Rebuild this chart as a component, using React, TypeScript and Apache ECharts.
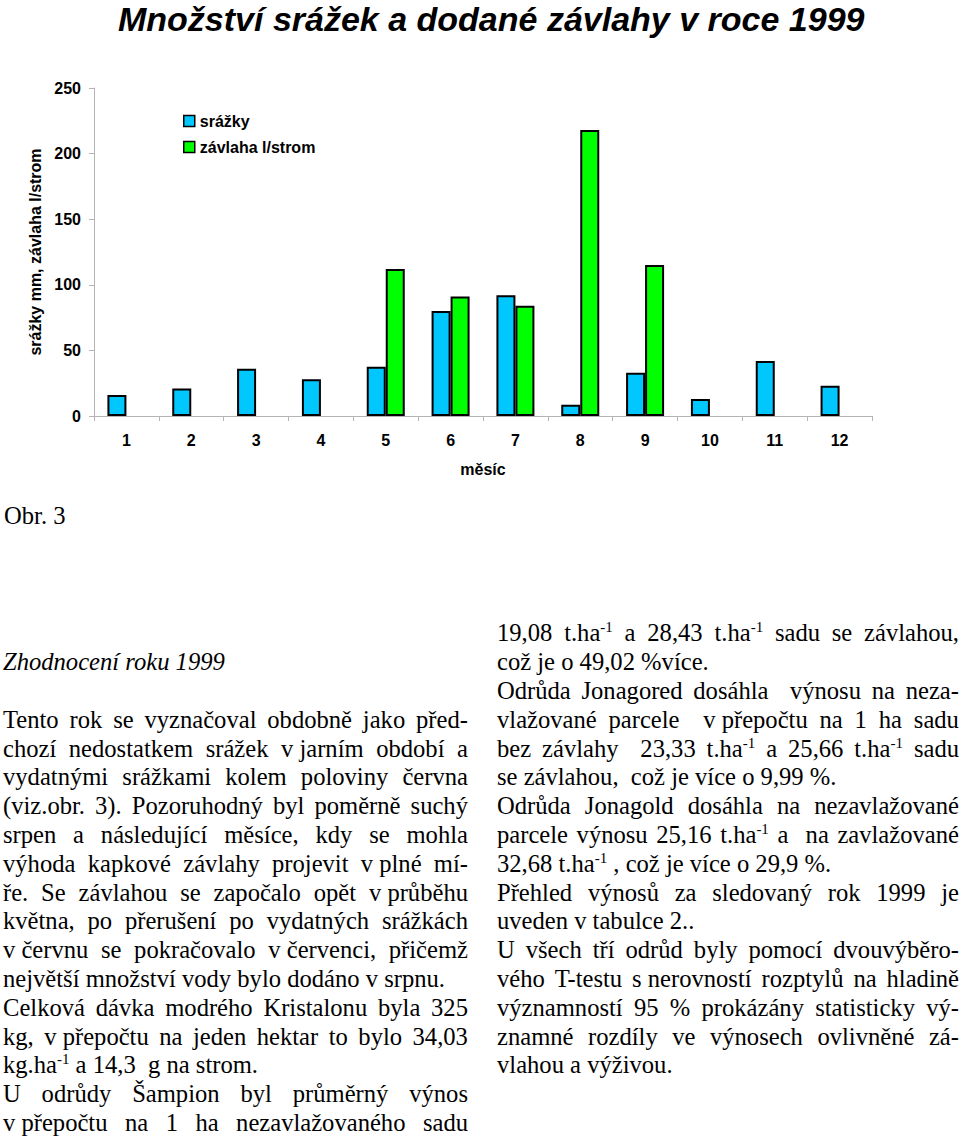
import React, { useEffect, useRef } from "react";
import * as echarts from "echarts";

// ---- chart data ----
const months = ["1", "2", "3", "4", "5", "6", "7", "8", "9", "10", "11", "12"];
const srazky = [16, 21, 36, 28, 37.5, 80, 92, 8.5, 33, 13, 42, 23];
const zavlaha = [null, null, null, null, 112, 91, 84, 218, 115, null, null, null];
const seriesNames = ["srážky", "závlaha l/strom"];
const titleText = "Množství srážek a dodané závlahy v roce 1999";
const yAxisName = "srážky mm, závlaha l/strom";
const xAxisName = "měsíc";

// ---- document text (row index, text, justified, italic) ----
const NB = "\u00a0";
const captionText = "Obr. 3";
const leftColumn: [number, string, boolean, boolean?][] = [
  [1, "Zhodnocení roku 1999", false, true],
  [3, "Tento rok se vyznačoval obdobně jako před-", true],
  [4, `chozí nedostatkem srážek v${NB}jarním období a`, true],
  [5, "vydatnými srážkami kolem poloviny června", true],
  [6, "(viz.obr. 3). Pozoruhodný byl poměrně suchý", true],
  [7, "srpen a následující měsíce, kdy se mohla", true],
  [8, `výhoda kapkové závlahy projevit v${NB}plné mí-`, true],
  [9, `ře. Se závlahou se započalo opět v${NB}průběhu`, true],
  [10, "května, po přerušení po vydatných srážkách", true],
  [11, `v${NB}červnu se pokračovalo v${NB}červenci, přičemž`, true],
  [12, "největší množství vody bylo dodáno v srpnu.", false],
  [13, "Celková dávka modrého Kristalonu byla 325", true],
  [14, `kg, v${NB}přepočtu na jeden hektar to bylo 34,03`, true],
  [15, "kg.ha^-1 a 14,3  g na strom.", false],
  [16, "U odrůdy Šampion byl průměrný výnos", true],
  [17, `v${NB}přepočtu na 1 ha nezavlažovaného sadu`, true],
];
const rightColumn: [number, string, boolean, boolean?][] = [
  [0, "19,08 t.ha^-1 a 28,43 t.ha^-1 sadu se závlahou,", true],
  [1, "což je o 49,02 %více.", false],
  [2, "Odrůda Jonagored dosáhla  výnosu na neza-", true],
  [3, `vlažované parcele  v${NB}přepočtu na 1 ha sadu`, true],
  [4, "bez závlahy  23,33 t.ha^-1 a 25,66 t.ha^-1 sadu", true],
  [5, "se závlahou,  což je více o 9,99 %.", false],
  [6, "Odrůda Jonagold dosáhla na nezavlažované", true],
  [7, "parcele výnosu 25,16 t.ha^-1 a  na zavlažované", true],
  [8, "32,68 t.ha^-1 , což je více o 29,9 %.", false],
  [9, "Přehled výnosů za sledovaný rok 1999 je", true],
  [10, "uveden v tabulce 2..", false],
  [11, "U všech tří odrůd byly pomocí dvouvýběro-", true],
  [12, `vého T-testu s${NB}nerovností rozptylů na hladině`, true],
  [13, "významností 95 % prokázány statisticky vý-", true],
  [14, "znamné rozdíly ve výnosech ovlivněné zá-", true],
  [15, "vlahou a výživou.", false],
];

const LINE_H = 28.8;
const FONT_PX = 24.6;
const BASELINE_OFF = 22.6;
const FIRST_TOP = 642 - BASELINE_OFF;
const SERIF = '"Liberation Serif", "Times New Roman", serif';

function renderSegments(word: string, key: string) {
  const parts = word.split("^");
  if (parts.length === 1) return word;
  const out: React.ReactNode[] = [];
  parts.forEach((p, idx) => {
    if (idx === 0) {
      out.push(<React.Fragment key={key + "n" + idx}>{p}</React.Fragment>);
    } else {
      const sup = p.slice(0, 2);
      const rest = p.slice(2);
      out.push(
        <span
          key={key + "s" + idx}
          style={{ fontSize: 15, position: "relative", top: -9, lineHeight: "15px" }}
        >
          {sup}
        </span>
      );
      if (rest) out.push(<React.Fragment key={key + "r" + idx}>{rest}</React.Fragment>);
    }
  });
  return out;
}

function TextLine(props: {
  text: string;
  justify: boolean;
  italic?: boolean;
  top: number;
  left: number;
  width: number;
}) {
  const { text, justify, italic, top, left, width } = props;
  const base: React.CSSProperties = {
    position: "absolute",
    left,
    top,
    width,
    height: LINE_H,
    lineHeight: LINE_H + "px",
    fontSize: FONT_PX,
    fontFamily: SERIF,
    fontStyle: italic ? "italic" : "normal",
    color: "#000",
    whiteSpace: "pre",
  };
  if (justify) {
    const words = text.split(" ");
    return (
      <div style={{ ...base, display: "flex", justifyContent: "space-between" }}>
        {words.map((w, k) => (
          <span key={k} style={{ whiteSpace: "pre" }}>
            {renderSegments(w, "w" + k)}
          </span>
        ))}
      </div>
    );
  }
  return <div style={base}>{renderSegments(text, "t")}</div>;
}

function Chart() {
  const ref = useRef<HTMLDivElement>(null);
  useEffect(() => {
    if (!ref.current) return;
    const chart = echarts.init(ref.current, undefined, { renderer: "svg" });
    const font = '"Liberation Sans", Arial, sans-serif';
    const axisColor = "#b4b4b4";
    chart.setOption({
      animation: false,
      backgroundColor: "#ffffff",
      title: {
        text: titleText,
        left: 118,
        top: 0,
        padding: 0,
        textStyle: {
          fontFamily: font,
          fontSize: 34,
          lineHeight: 38,
          fontWeight: "bold",
          fontStyle: "italic",
          color: "#000",
        },
      },
      legend: {
        orient: "vertical",
        left: 183,
        top: 113,
        padding: 0,
        itemWidth: 11,
        itemHeight: 11,
        itemGap: 10,
        icon: "rect",
        itemStyle: { borderWidth: 1.5, borderColor: "#000" },
        textStyle: { fontFamily: font, fontSize: 16, fontWeight: "bold", color: "#000" },
        data: seriesNames,
      },
      grid: {
        left: 94,
        right: 88,
        top: 88,
        bottom: 84,
        outerBoundsMode: "none",
        containLabel: false,
      },
      xAxis: {
        type: "category",
        data: months,
        boundaryGap: true,
        name: xAxisName,
        nameLocation: "middle",
        nameGap: 45,
        nameTextStyle: { fontFamily: font, fontSize: 16, fontWeight: "bold", color: "#000" },
        axisLine: { lineStyle: { color: axisColor, width: 1 } },
        axisTick: { show: true, length: 5, lineStyle: { color: axisColor } },
        axisLabel: { margin: 16, fontFamily: font, fontSize: 16, fontWeight: "bold", color: "#000" },
        splitLine: { show: false },
      },
      yAxis: {
        type: "value",
        min: 0,
        max: 250,
        interval: 50,
        name: yAxisName,
        nameLocation: "middle",
        nameGap: 50,
        nameTextStyle: { fontFamily: font, fontSize: 16, fontWeight: "bold", color: "#000" },
        axisLine: { show: true, lineStyle: { color: axisColor, width: 1 } },
        axisTick: { show: true, length: 5, lineStyle: { color: axisColor } },
        axisLabel: { margin: 13, fontFamily: font, fontSize: 16, fontWeight: "bold", color: "#000" },
        splitLine: { show: false },
      },
      series: [
        {
          name: seriesNames[0],
          type: "bar",
          data: srazky,
          barWidth: 19,
          barGap: "0%",
          itemStyle: { color: "#00c8ff", borderColor: "#000", borderWidth: 2 },
        },
        {
          name: seriesNames[1],
          type: "bar",
          data: zavlaha,
          barWidth: 19,
          barGap: "0%",
          itemStyle: { color: "#00ff00", borderColor: "#000", borderWidth: 2 },
        },
      ],
    });
    return () => chart.dispose();
  }, []);
  return (
    <div
      ref={ref}
      style={{ position: "absolute", left: 0, top: 0, width: 960, height: 500 }}
    />
  );
}

export default function App() {
  return (
    <div
      style={{
        position: "absolute",
        left: 0,
        top: 0,
        width: 960,
        height: 1142,
        overflow: "hidden",
        background: "#fff",
      }}
    >
      <Chart />
      <div
        style={{
          position: "absolute",
          left: 4,
          top: 525 - BASELINE_OFF,
          height: LINE_H,
          lineHeight: LINE_H + "px",
          fontSize: FONT_PX,
          fontFamily: SERIF,
          color: "#000",
          whiteSpace: "pre",
        }}
      >
        {captionText}
      </div>
      {leftColumn.map(([row, text, j, it]) => (
        <TextLine
          key={"l" + row}
          text={text}
          justify={j}
          italic={it}
          top={FIRST_TOP + LINE_H * row}
          left={3}
          width={465}
        />
      ))}
      {rightColumn.map(([row, text, j, it]) => (
        <TextLine
          key={"r" + row}
          text={text}
          justify={j}
          italic={it}
          top={FIRST_TOP + LINE_H * row}
          left={497}
          width={462}
        />
      ))}
    </div>
  );
}
